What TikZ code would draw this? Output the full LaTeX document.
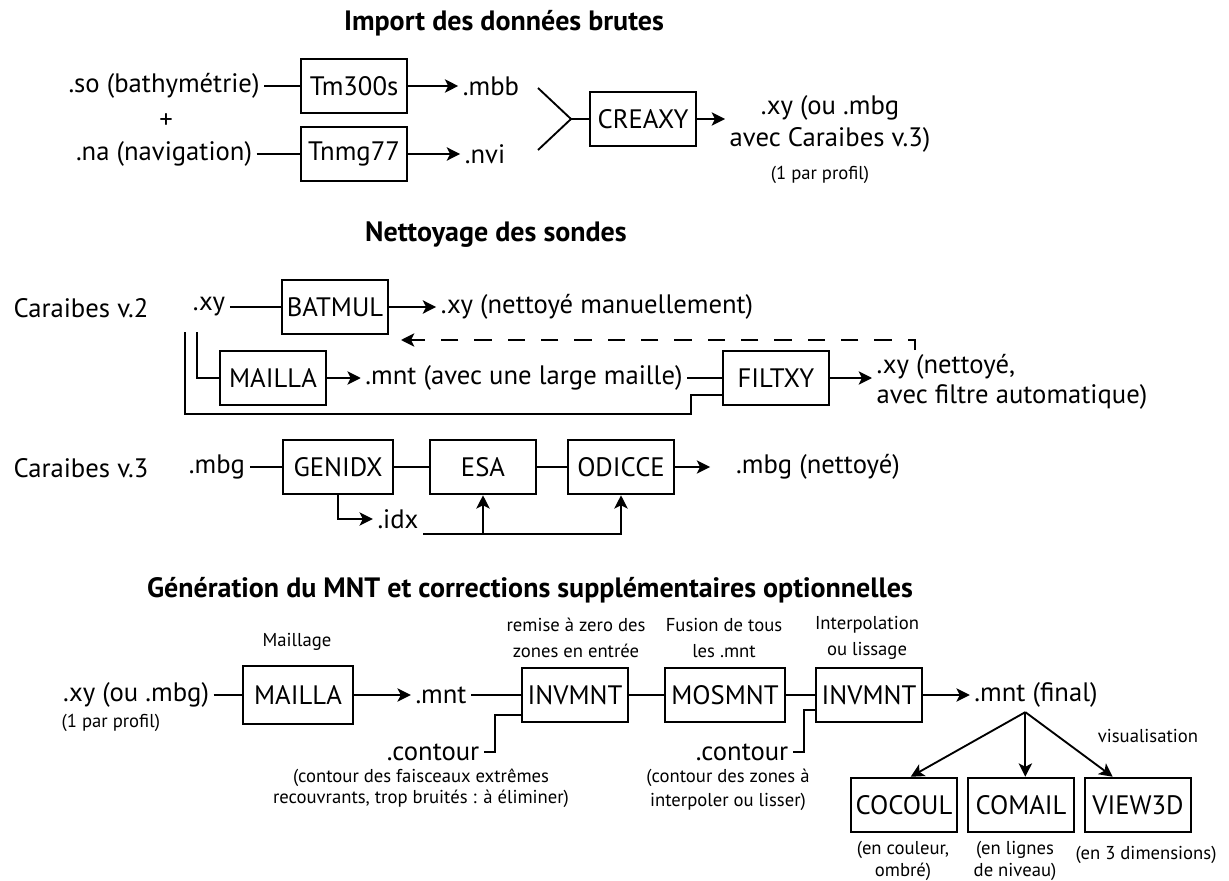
\documentclass[tikz,border=0pt]{standalone}
\usepackage{fontspec}
\setmainfont{PT Sans}
\usetikzlibrary{arrows,arrows.meta,positioning,calc}

\begin{document}
\begin{tikzpicture}[x=0.75pt, y=-0.75pt,
    box/.style={rectangle, draw, line width=1.4pt, minimum width=79pt, minimum height=41pt, font=\fontsize{20}{24}\selectfont},
    txt/.style={font=\fontsize{20}{24}\selectfont, align=center},
    note/.style={font=\fontsize{14}{19}\selectfont, align=center},
    heading/.style={font=\bfseries\fontsize{21}{25}\selectfont},
    link/.style={line width=1.4pt},
    arrow/.style={-{Stealth[length=10pt,width=10pt,inset=2.5pt]}, line width=1.4pt}
]
\useasboundingbox (0,0) rectangle (1229,881);

% import
\node[heading] (t1) at (504,23) {Import des données brutes};
\node[txt] (so) at (164,86) {.so (bathymétrie)};
\node[txt] (plus) at (166,121) {+};
\node[txt] (na) at (164,154) {.na (navigation)};
\node[box] (tm) at (354,86) {Tm300s};
\node[box] (tn) at (354,154) {Tnmg77};
\node[txt] (mbb) at (491,86) {.mbb};
\node[txt] (nvi) at (485,154) {.nvi};
\coordinate (fa) at (538,88);
\coordinate (fb) at (538,150);
\coordinate (fork) at (571,119);
\node[box] (creaxy) at (643,119) {CREAXY};
\node[txt] (xy1) at (830,124) {.xy (ou .mbg\\avec Caraibes v.3)};
\node[note] (prof1) at (820,175) {(1 par profil)};

\draw[link] (so) -- (tm);
\draw[link] (na) -- (tn);
\draw[arrow] (tm) -- (mbb);
\draw[arrow] (tn) -- (nvi);
\draw[link] (fa) -- (fork) -- (fb);
\draw[link] (fork) -- (creaxy);
\draw[arrow] (creaxy) -- (creaxy -| xy1.west);

% nettoyage
\node[heading] (t2) at (496,235) {Nettoyage des sondes};
\node[txt] (car2) at (81,308) {Caraibes v.2};
\node[txt] (xy2) at (209,307) {.xy};
\node[box] (batmul) at (335,307) {BATMUL};
\node[txt] (xyman) at (597,307) {.xy (nettoyé manuellement)};
\node[box] (mailla) at (273,378) {MAILLA};
\node[txt] (mntl) at (524,378) {.mnt (avec une large maille)};
\node[box] (filtxy) at (776,378) {FILTXY};
\node[txt, align=left, anchor=west, font=\fontsize{20}{22.5}\selectfont] (xyfilt) at (872,382) {.xy (nettoyé,\\avec filtre automatique)};
\coordinate (v2in) at (197,332);
\coordinate (v2out) at (185,332);
\coordinate (v2low) at (691,414);
\coordinate (back) at (915,350);
\coordinate (backend) at (401,340);

\draw[link] (xy2) -- (batmul);
\draw[arrow] (batmul) -- (xyman);
\draw[arrow, dash pattern=on 13pt off 12pt] (back) |- (backend);
\draw[link] (v2in) |- (mailla);
\draw[arrow] (mailla) -- (mntl);
\draw[link] (mntl) -- (filtxy);
\draw[link] (v2out) |- (v2low) |- ([yshift=-13pt]filtxy.west);
\draw[arrow] (filtxy) -- (filtxy -| xyfilt.west);

\node[txt] (car3) at (81,468) {Caraibes v.3};
\node[txt] (mbg) at (217,467) {.mbg};
\node[box, minimum width=82pt] (genidx) at (338,467) {GENIDX};
\node[box] (esa) at (483,467) {ESA};
\node[box] (odicce) at (621,467) {ODICCE};
\node[txt] (mbgclean) at (818,467) {.mbg (nettoyé)};
\node[txt] (idx) at (398,519) {.idx};
\coordinate (idxline) at ([yshift=-11pt]idx.east);

\draw[link] (mbg) -- (genidx);
\draw[link] (genidx) -- (esa);
\draw[link] (esa) -- (odicce);
\draw[arrow, shorten >=16pt] (odicce) -- (mbgclean);
\draw[arrow] (genidx.south) |- (idx);
\draw[arrow] (idxline) -| (odicce.south);
\draw[arrow] (idxline -| esa.south) -- (esa.south);

% generation du MNT
\node[heading] (t3) at (530,590) {Génération du MNT et corrections supplémentaires optionnelles};
\node[note] (lmaill) at (297,642) {Maillage};
\node[txt] (xy3) at (136,695) {.xy (ou .mbg)};
\node[note, anchor=west] (prof3) at (57,723) {(1 par profil)};
\node[box, minimum width=83pt, minimum height=43pt] (mailla3) at (298,695) {MAILLA};
\node[txt] (mnt3) at (441,695) {.mnt};
\node[box] (inv1) at (575,695) {INVMNT};
\node[box, minimum width=90pt] (mos) at (725,695) {MOSMNT};
\node[box] (inv2) at (869,695) {INVMNT};
\node[txt] (mntfin) at (1036,695) {.mnt (final)};
\node[note] (lremise) at (576,638) {remise à zero des\\zones en entrée};
\node[note] (lfusion) at (724,638) {Fusion de tous\\les .mnt};
\node[note] (linterp) at (867,638) {Interpolation\\ou lissage};
\node[txt] (cont1) at (433,752) {.contour};
\node[txt] (cont2) at (742,752) {.contour};
\node[note, font=\fontsize{14}{16}\selectfont] (ncont1) at (421,788) {(contour des faisceaux extrêmes\\recouvrants, trop bruités : à éliminer)};
\node[note, font=\fontsize{14}{18}\selectfont] (ncont2) at (728,790) {(contour des zones à\\interpoler ou lisser)};
\node[box] (cocoul) at (904,805) {COCOUL};
\node[box] (comail) at (1021,805) {COMAIL};
\node[box] (view3d) at (1138,805) {VIEW3D};
\node[note] (lvisu) at (1148,736) {visualisation};
\node[note, font=\fontsize{14}{17}\selectfont] (ncoul) at (903,861) {(en couleur,\\ombré)};
\node[note, font=\fontsize{14}{17}\selectfont] (nlign) at (1015,861) {(en lignes\\de niveau)};
\node[note] (n3d) at (1146,855) {(en 3 dimensions)};
\coordinate (split) at ([xshift=-8pt]mntfin.south);

\draw[link] (xy3) -- (mailla3);
\draw[arrow] (mailla3) -- (mnt3);
\draw[link] (mnt3) -- (inv1);
\draw[link] (inv1) -- (mos);
\draw[link] (mos) -- (inv2);
\draw[arrow] (inv2) -- (mntfin);
\draw[link] ([yshift=-15pt]inv1.west) -| ([xshift=8pt]cont1.east) -- (cont1.east);
\draw[link] ([yshift=-11pt]inv2.west) -| ([xshift=8pt]cont2.east) -- (cont2.east);
\draw[arrow] (split) -- ([xshift=5pt]cocoul.north);
\draw[arrow] (split) -- (split |- comail.north);
\draw[arrow] (split) -- ([xshift=-19pt]view3d.north);
\end{tikzpicture}
\end{document}
